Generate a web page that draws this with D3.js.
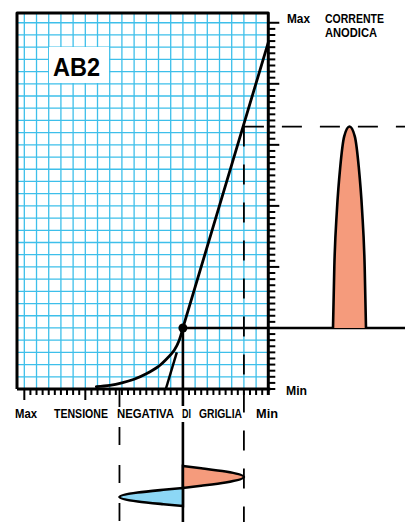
<!DOCTYPE html>
<html><head><meta charset="utf-8">
<script src="https://cdn.jsdelivr.net/npm/d3@7"></script>
<style>body{margin:0;background:#fff}svg{display:block}</style>
</head><body>
<svg id="c" width="405" height="522"></svg>
<script>
// ---------- data (grid units: x = grid voltage, y = anode current) ----------
const curveVg   = [-14.1, -13, -12, -11, -10, -9, -8.3, -7.7, -7.3, -7];
const curveIa   = [0.2, 0.3, 0.5, 0.8, 1.25, 1.85, 2.5, 3.2, 4.0, 5.0];
const lineVg    = [-7, 0];
const lineIa    = [5, 28.4];
const tangentVg = [-8.4, -7.5];
const tangentIa = [0, 3.0];
const qVg = -7, qIa = 5;          // working point
const peakVg = -2, peakIa = 21.5; // peak of swing
const lowVg = -12.2;              // negative peak of swing
// grid signal (time steps down the page)
const redT  = [0, 0.1, 0.25, 0.5, 0.75, 0.9, 1];
const redV  = [-7, -5.5, -3.5, -2, -3.5, -5.5, -7];
const blueT = [1, 1.1, 1.25, 1.5, 1.75, 1.9, 2];
const blueV = [-7, -8.6, -10.7, -12.2, -10.7, -8.6, -7];
// anode current pulse
const pulseT = [0, 0.04, 0.12, 0.22, 0.34, 0.5, 0.66, 0.78, 0.88, 0.96, 1];
const pulseI = [5, 10, 14.7, 18.2, 20.7, 21.5, 20.7, 18.2, 14.7, 10, 5];
// labels
const bottomLabels = ["Max", "TENSIONE", "NEGATIVA", "DI", "GRIGLIA", "Min"];
const topLabels = ["Max", "CORRENTE", "ANODICA"];
const rightMinLabel = "Min";
const title = "AB2";

// ---------- drawing ----------
const svg = d3.select("#c");
const x = d3.scaleLinear().domain([-20.6, 0]).range([17, 268.3]);
const y = d3.scaleLinear().domain([0, 30.8]).range([389, 13]);
const tSig = d3.scaleLinear().domain([0, 1, 2]).range([466, 488, 506]);
const tPulse = d3.scaleLinear().domain([0, 1]).range([333, 366]);
const FONT = "'Liberation Sans',Arial,'DejaVu Sans',sans-serif";

// grid
const g = svg.append("g").attr("stroke", "#3dbfea").attr("stroke-width", 1.3);
d3.range(-20, 0, 1).forEach(v => g.append("line")
  .attr("x1", x(v)).attr("x2", x(v)).attr("y1", y(30.8)).attr("y2", y(0)));
d3.range(1, 31, 1).forEach(v => g.append("line")
  .attr("x1", x(-20.6)).attr("x2", x(0)).attr("y1", y(v)).attr("y2", y(v)));

// AB2 box
svg.append("rect").attr("x", 49).attr("y", 47).attr("width", 60).attr("height", 36).attr("fill", "#fff");
svg.append("text").attr("x", 53).attr("y", 76).attr("font-family", FONT).attr("font-weight", "bold")
  .attr("font-size", 26).attr("textLength", 47).attr("lengthAdjust", "spacingAndGlyphs").text(title);

// frame
svg.append("path").attr("fill", "none").attr("stroke", "#000").attr("stroke-width", 3)
  .attr("stroke-linejoin", "round")
  .attr("d", `M${x(-20.6)},${y(0)} V${y(30.8)} H${x(0)} V${y(0) + 6}`);
svg.append("line").attr("x1", x(-20.6)).attr("x2", x(0) + 2).attr("y1", y(0)).attr("y2", y(0))
  .attr("stroke", "#000").attr("stroke-width", 3);

// right axis ticks
const rTicks = d3.range(0, 30.5, 0.5);
svg.append("g").selectAll("line").data(rTicks).join("line")
  .attr("x1", x(0) - 1).attr("x2", d => x(0) + (d % 5 === 0 && d > 0 ? 11 : 7))
  .attr("y1", d => y(d)).attr("y2", d => y(d))
  .attr("stroke", "#000").attr("stroke-width", 2);
// bottom axis ticks
const bTicks = d3.range(-20, 0, 0.5);
const bMajor = [-20, -15];
svg.append("g").selectAll("line").data(bTicks).join("line")
  .attr("x1", d => x(d)).attr("x2", d => x(d))
  .attr("y1", y(0)).attr("y2", d => y(0) + (bMajor.includes(d) ? 11 : 6))
  .attr("stroke", "#000").attr("stroke-width", 2);

// dashed guides
svg.append("path").attr("fill", "none").attr("stroke", "#000").attr("stroke-width", 1.8)
  .attr("stroke-dasharray", "20 18")
  .attr("d", `M${x(peakVg)},${y(peakIa)} H405`);
svg.append("path").attr("fill", "none").attr("stroke", "#000").attr("stroke-width", 1.8)
  .attr("stroke-dasharray", "20 18")
  .attr("d", `M${x(peakVg)},${y(peakIa)} V522`);
svg.append("path").attr("fill", "none").attr("stroke", "#000").attr("stroke-width", 1.8)
  .attr("stroke-dasharray", "18 20")
  .attr("d", `M${x(lowVg)},${y(0)} V522`);

// characteristic
const lineGen = d3.line().x(d => x(d[0])).y(d => y(d[1]));
svg.append("path").datum(d3.zip(curveVg, curveIa))
  .attr("d", lineGen.curve(d3.curveCatmullRom)).attr("fill", "none")
  .attr("stroke", "#000").attr("stroke-width", 2.8).attr("stroke-linecap", "round");
svg.append("path").datum(d3.zip(lineVg, lineIa))
  .attr("d", d3.line().x(d => x(d[0])).y(d => y(d[1]))).attr("fill", "none")
  .attr("stroke", "#000").attr("stroke-width", 2.8).attr("stroke-linecap", "round");
svg.append("path").datum(d3.zip(tangentVg, tangentIa))
  .attr("d", d3.line().x(d => x(d[0])).y(d => y(d[1]))).attr("fill", "none")
  .attr("stroke", "#000").attr("stroke-width", 2.5);

// working point lines
svg.append("line").attr("x1", x(qVg)).attr("x2", 405).attr("y1", y(qIa)).attr("y2", y(qIa))
  .attr("stroke", "#000").attr("stroke-width", 2.6);
svg.append("line").attr("x1", x(qVg)).attr("x2", x(qVg)).attr("y1", y(qIa)).attr("y2", 406)
  .attr("stroke", "#000").attr("stroke-width", 2.6);
svg.append("line").attr("x1", x(qVg)).attr("x2", x(qVg)).attr("y1", 422).attr("y2", 522)
  .attr("stroke", "#000").attr("stroke-width", 2.6);
svg.append("circle").attr("cx", x(qVg)).attr("cy", y(qIa)).attr("r", 4.5).attr("fill", "#000");

// anode current pulse
svg.append("path").datum(d3.zip(pulseT, pulseI))
  .attr("d", d3.line().x(d => tPulse(d[0])).y(d => y(d[1])).curve(d3.curveMonotoneX))
  .attr("fill", "#f59b7c").attr("stroke", "#000").attr("stroke-width", 2.6);

// grid signal lobes
const lobe = (T, V) => {
  const pts = d3.zip(V, T);
  return d3.line().x(d => x(d[0])).y(d => tSig(d[1])).curve(d3.curveMonotoneY)(pts);
};
svg.append("path").attr("d", lobe(redT, redV) + "Z").attr("fill", "#f59b7c")
  .attr("stroke", "#000").attr("stroke-width", 2.6);
svg.append("path").attr("d", lobe(blueT, blueV) + "Z").attr("fill", "#8cd7f5")
  .attr("stroke", "#000").attr("stroke-width", 2.6);

// labels
const txt = (s, px, py, w, fs) => svg.append("text").attr("x", px).attr("y", py)
  .attr("font-family", FONT).attr("font-weight", "bold").attr("font-size", fs || 13)
  .attr("textLength", w).attr("lengthAdjust", "spacingAndGlyphs").text(s);
const bx = [15, 54, 117, 182, 199, 256], bw = [22, 54, 57, 9, 43, 22];
bottomLabels.forEach((s, i) => txt(s, bx[i], 418, bw[i]));
txt(topLabels[0], 287, 23, 23, 12);
txt(topLabels[1], 325, 23, 59, 12);
txt(topLabels[2], 325, 36.5, 52, 12);
txt(rightMinLabel, 286, 395, 21, 12.5);
</script>
</body></html>
